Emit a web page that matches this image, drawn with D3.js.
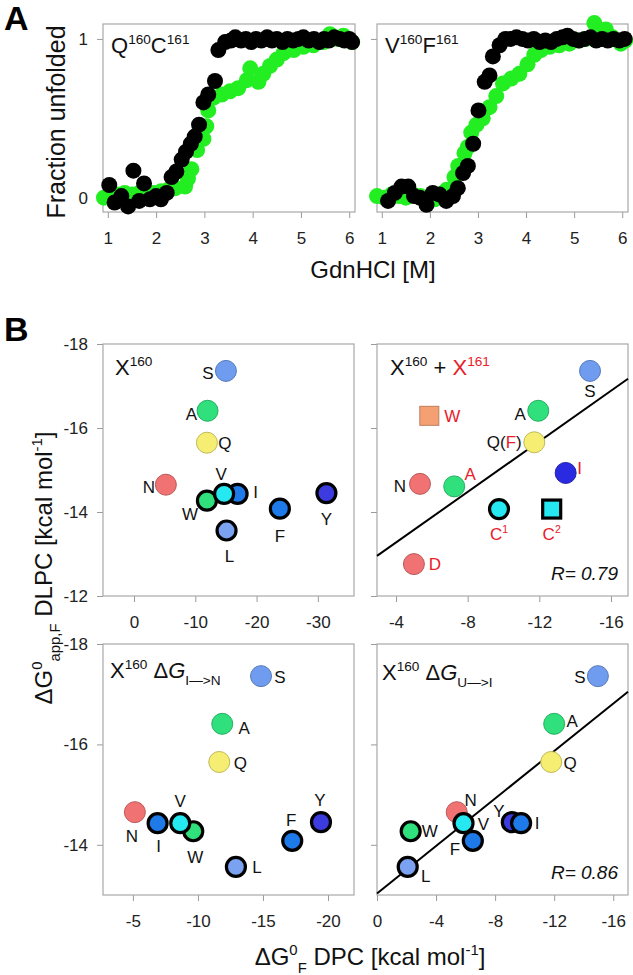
<!DOCTYPE html>
<html>
<head>
<meta charset="utf-8">
<script src="https://cdn.jsdelivr.net/npm/d3@7"></script>
<style>
body { margin: 0; background: #fff; }
svg { font-family: "Liberation Sans", Arial, sans-serif; }
.tick line { stroke: #9a9a9a; }
.tick text { fill: #222; font-size: 17px; }
.frame { fill: none; stroke: #a8a8a8; stroke-width: 1.2; }
</style>
</head>
<body>
<script>
// ---------- panel A: GdnHCl titrations [M, fraction unfolded] ----------
const qcBlack = [[1.03,0.08],[1.14,-0.03],[1.28,0.01],[1.42,-0.055],[1.53,0.17],[1.65,-0.02],[1.75,0.09],
  [1.87,-0.01],[2.0,0.01],[2.1,-0.01],[2.22,0.03],[2.32,0.13],[2.42,0.165],[2.53,0.24],[2.62,0.29],
  [2.72,0.34],[2.8,0.385],[2.89,0.46],[2.98,0.6],[3.08,0.65],[3.22,0.735],[3.29,0.93],[3.43,0.98],
  [3.55,0.99],[3.64,1.01],[3.76,0.99],[3.86,1.0],[3.97,0.98],[4.07,1.0],[4.18,0.99],[4.3,1.01],
  [4.4,0.99],[4.5,1.0],[4.62,0.98],[4.72,1.0],[4.84,0.99],[4.95,1.0],[5.05,1.01],[5.16,0.99],
  [5.27,1.0],[5.38,0.98],[5.48,1.0],[5.58,0.99],[5.69,1.01],[5.8,1.0],[5.9,0.99],[6.0,1.0],[6.06,0.98]];
const qcGreen = [[0.92,0.0],[1.05,0.0],[1.2,0.02],[1.35,0.03],[1.5,0.02],[1.65,0.03],[1.8,0.03],
  [1.95,0.03],[2.1,0.04],[2.25,0.05],[2.4,0.06],[2.6,0.07],[2.66,0.12],[2.73,0.18],[2.85,0.3],
  [2.98,0.37],[3.04,0.45],[3.08,0.55],[3.19,0.63],[3.36,0.65],[3.53,0.67],[3.7,0.69],[3.88,0.74],
  [3.95,0.815],[4.12,0.73],[4.22,0.78],[4.36,0.83],[4.5,0.87],[4.64,0.91],[4.85,0.93],[5.05,0.95],
  [5.26,0.96],[5.47,0.98],[5.6,1.03],[5.75,1.0],[5.88,1.02],[6.06,0.98]];
const vfBlack = [[1.13,-0.02],[1.27,0.03],[1.41,0.07],[1.55,0.07],[1.67,0.01],[1.79,0.0],[1.93,-0.045],
  [2.06,0.03],[2.2,0.02],[2.34,-0.02],[2.48,0.01],[2.58,0.06],[2.69,0.155],[2.79,0.2],[2.9,0.34],
  [3.01,0.55],[3.14,0.73],[3.24,0.77],[3.31,0.89],[3.45,0.96],[3.57,1.0],[3.68,1.0],[3.8,1.01],
  [3.92,1.0],[4.04,0.99],[4.16,1.0],[4.28,0.98],[4.4,0.99],[4.52,0.98],[4.64,1.0],[4.76,1.01],
  [4.86,1.02],[4.98,1.0],[5.1,0.99],[5.22,1.0],[5.34,1.01],[5.46,0.99],[5.58,1.0],[5.7,0.99],
  [5.82,1.0],[5.94,0.99],[6.05,1.0]];
const vfGreen = [[0.9,0.01],[1.05,0.0],[1.2,0.02],[1.35,0.01],[1.5,0.0],[1.65,0.02],[1.8,0.01],
  [1.95,0.0],[2.1,-0.01],[2.2,0.02],[2.35,0.05],[2.51,0.13],[2.59,0.2],[2.72,0.28],[2.79,0.32],
  [2.86,0.41],[2.97,0.46],[3.1,0.5],[3.24,0.57],[3.38,0.64],[3.52,0.72],[3.69,0.75],[3.86,0.78],
  [4.03,0.84],[4.17,0.9],[4.31,0.93],[4.49,0.95],[4.69,0.96],[4.9,0.97],[5.1,0.99],[5.25,1.0],
  [5.42,1.1],[5.55,1.04],[5.66,1.06],[5.8,1.01],[5.97,0.97],[6.06,0.99]];

// ---------- panel B: free energies [kcal/mol] ----------
const residues = ["S","A","Q","N","W","V","I","L","F","Y"];
const dlpc     = [-17.36,-16.41,-15.65,-14.65,-14.27,-14.43,-14.43,-13.56,-14.08,-14.45];
const dpcTotal = [-15.0,-12.0,-11.9,-5.2,-11.9,-14.7,-16.9,-15.1,-23.8,-31.4];
const dpcIN    = [-14.85,-11.87,-11.64,-5.15,-9.64,-8.64,-6.9,-12.92,-17.25,-19.46];
const dpcUI    = [-14.96,-12.0,-11.8,-5.4,-2.28,-5.86,-9.76,-2.08,-6.49,-9.13];

const pairs     = ["S","W","A","QF","I","N","A2","C1","C2","D"];
const pairsDPC  = [-14.83,-5.86,-11.94,-11.72,-13.47,-5.34,-7.25,-9.75,-12.69,-5.0];
const pairsDLPC = [-17.36,-16.29,-16.41,-15.66,-14.93,-14.67,-14.61,-14.07,-14.07,-12.76];

const fitPairs = {slope: 0.301, intercept: -12.07, r: "0.79"};
const fitUI    = {slope: 0.2365, intercept: -13.03, r: "0.86"};

const ticksA_x = [1,2,3,4,5,6], ticksA_y = [0,1];
const ticksB_y = [-18,-16,-14,-12], ticksB_y2 = [-18,-16,-14];
const ticksTL = [0,-10,-20,-30], ticksTR = [-4,-8,-12,-16];
const ticksBL = [-5,-10,-15,-20], ticksBR = [0,-4,-8,-12,-16];

// ---------- styles ----------
const RED = "#e8202a", GREEN = "#22ee22";
const fillOf = {S:"#6f9cef",A:"#2fe07c",Q:"#f6ee72",N:"#f07272",W:"#2fe07c",V:"#25e8f0",
  I:"#1e7ae8",L:"#7ba2f0",F:"#1e7ae8",Y:"#3b3be0"};
const thick = {W:1,V:1,I:1,L:1,F:1,Y:1};
const drawOrder = ["S","A","Q","N","Y","F","L","I","W","V"];
const pairStyle = {
  S:{fill:"#6f9cef"}, W:{fill:"#f5a073", square:true}, A:{fill:"#2fe07c"}, QF:{fill:"#f6ee72"},
  I:{fill:"#2a2ae0"}, N:{fill:"#f07272"}, A2:{fill:"#2fe07c"}, C1:{fill:"#25e8f0", thick:true},
  C2:{fill:"#25e8f0", thick:true, square:true}, D:{fill:"#f07272"}
};
const pairLabel = {
  S:[{t:"S"}], W:[{t:"W",c:RED}], A:[{t:"A"}], QF:[{t:"Q("},{t:"F",c:RED},{t:")"}],
  I:[{t:"I",c:RED}], N:[{t:"N"}], A2:[{t:"A",c:RED}], C1:[{t:"C",c:RED},{t:"1",sup:1,c:RED}],
  C2:[{t:"C",c:RED},{t:"2",sup:1,c:RED}], D:[{t:"D",c:RED}]
};
const labTL = {S:[-18,2],A:[-16,3],Q:[18,0],N:[-17,2],V:[-3,-20],W:[-17,13],I:[18,-2],L:[3,26],F:[0,27],Y:[0,26]};
const labBL = {S:[19,1],A:[22,4],Q:[21,1],N:[-3,24],I:[1,23],V:[0,-22],W:[2,26],L:[21,0],F:[-1,-21],Y:[-1,-22]};
const labBR = {S:[-18,1],A:[18,-3],Q:[19,1],N:[14,-12],V:[20,1],Y:[-13,-11],I:[16,0],W:[19,0],F:[-18,8],L:[18,9]};
const labTR = {S:[0,20],W:[23,0],A:[-18,3],QF:[-30,0],I:[14,-5],N:[-20,2],A2:[16,-12],C1:[0,25],C2:[0,25],D:[21,0]};

const W = 633, H = 975;
const svg = d3.select("body").append("svg").attr("width", W).attr("height", H);

// text with sub/superscripts made of tspans
function rich(g, x, y, parts, size, anchor) {
  const t = g.append("text").attr("x", x).attr("y", y).attr("font-size", size)
    .attr("text-anchor", anchor || "start");
  let shift = 0;
  parts.forEach(p => {
    const target = p.sup ? -0.42 * size : p.sub ? 0.32 * size : 0;
    t.append("tspan").attr("dy", target - shift)
      .attr("font-size", (p.sup || p.sub) ? size * (p.scale || 0.62) : size)
      .attr("fill", p.c || "#111")
      .attr("font-style", p.it ? "italic" : null)
      .text(p.t);
    shift = target;
  });
  return t;
}

function axes(x, y, xt, yt, xlab, ylab) {
  const [x0, x1] = x.range();
  const y0 = d3.min(y.range()), y1 = d3.max(y.range());
  svg.append("g").attr("transform", "translate(0," + y1 + ")")
    .call(d3.axisBottom(x).tickValues(xt).tickSize(6).tickPadding(14)
      .tickFormat(xlab ? (d => String(d)) : ""))
    .call(g => g.select(".domain").remove());
  svg.append("g").attr("transform", "translate(" + x0 + ",0)")
    .call(d3.axisLeft(y).tickValues(yt).tickSize(6).tickPadding(9)
      .tickFormat(ylab ? (d => String(d)) : ""))
    .call(g => g.select(".domain").remove());
  svg.append("rect").attr("class", "frame")
    .attr("x", x0).attr("y", y0).attr("width", x1 - x0).attr("height", y1 - y0);
}

// ---------- panel A ----------
const yA = d3.scaleLinear().domain([-0.09, 1.094]).range([212, 24]);
const xA1 = d3.scaleLinear().domain([0.9, 6.12]).range([103, 355]);
const xA2 = d3.scaleLinear().domain([0.9, 6.12]).range([377, 628]);

[[xA1, qcGreen, qcBlack, true, [{t:"Q"},{t:"160",sup:1},{t:"C"},{t:"161",sup:1}]],
 [xA2, vfGreen, vfBlack, false, [{t:"V"},{t:"160",sup:1},{t:"F"},{t:"161",sup:1}]]]
.forEach(([x, green, black, ylab, title]) => {
  axes(x, yA, ticksA_x, ticksA_y, true, ylab);
  svg.append("g").selectAll("circle").data(green).enter().append("circle")
    .attr("cx", d => x(d[0])).attr("cy", d => yA(d[1])).attr("r", 8).attr("fill", GREEN);
  svg.append("g").selectAll("circle").data(black).enter().append("circle")
    .attr("cx", d => x(d[0])).attr("cy", d => yA(d[1])).attr("r", 8).attr("fill", "#000");
  rich(svg, x.range()[0] + 8, 53, title, 22);
});

svg.append("text").attr("x", 4).attr("y", 30).attr("font-size", 34).attr("font-weight", "bold").text("A");
svg.append("text").attr("transform", "translate(65,122) rotate(-90)").attr("text-anchor", "middle")
  .attr("font-size", 25).attr("fill", "#111").text("Fraction unfolded");
svg.append("text").attr("x", 373).attr("y", 278).attr("text-anchor", "middle")
  .attr("font-size", 24).attr("fill", "#111").text("GdnHCl [M]");

// ---------- panel B ----------
const yTop = d3.scaleLinear().domain([-18, -12]).range([344, 596]);
const yBot = d3.scaleLinear().domain([-18, -13]).range([644, 895]);
const xTL = d3.scaleLinear().domain([5.06, -35.9]).range([103, 354]);
const xTR = d3.scaleLinear().domain([-2.94, -16.95]).range([377, 628]);
const xBL = d3.scaleLinear().domain([-2.7, -22]).range([103, 354]);
const xBR = d3.scaleLinear().domain([0, -17]).range([377, 628]);

axes(xTL, yTop, ticksTL, ticksB_y, true, true);
axes(xTR, yTop, ticksTR, ticksB_y, true, false);
axes(xBL, yBot, ticksBL, ticksB_y2, true, true);
axes(xBR, yBot, ticksBR, ticksB_y2, true, false);

function fitLine(x, y, fit) {
  const xs = x.domain();
  svg.append("line")
    .attr("x1", x(xs[0])).attr("y1", y(fit.slope * xs[0] + fit.intercept))
    .attr("x2", x(xs[1])).attr("y2", y(fit.slope * xs[1] + fit.intercept))
    .attr("stroke", "#000").attr("stroke-width", 2);
  rich(svg, x.range()[1] - 10, d3.max(y.range()) - 16, [{t:"R= " + fit.r, it:1}], 19, "end");
}
fitLine(xTR, yTop, fitPairs);
fitLine(xBR, yBot, fitUI);

function residuePanel(x, y, xs, lab) {
  const rows = residues.map((r, i) => ({r: r, x: xs[i], y: dlpc[i]}))
    .sort((a, b) => drawOrder.indexOf(a.r) - drawOrder.indexOf(b.r));
  const g = svg.append("g");
  g.selectAll("circle").data(rows).enter().append("circle")
    .attr("cx", d => x(d.x)).attr("cy", d => y(d.y))
    .attr("r", d => thick[d.r] ? 9.5 : 10.5)
    .attr("fill", d => fillOf[d.r])
    .attr("stroke", d => thick[d.r] ? "#000" : d3.color(fillOf[d.r]).darker(0.7))
    .attr("stroke-width", d => thick[d.r] ? 3.2 : 1);
  rows.forEach(d => {
    const o = lab[d.r];
    rich(g, x(d.x) + o[0], y(d.y) + o[1] + 6, [{t: d.r}], 17, "middle");
  });
}
residuePanel(xTL, yTop, dpcTotal, labTL);
residuePanel(xBL, yBot, dpcIN, labBL);
residuePanel(xBR, yBot, dpcUI, labBR);

// combined X160 + X161 panel
const gp = svg.append("g");
pairs.forEach((p, i) => {
  const s = pairStyle[p], cx = xTR(pairsDPC[i]), cy = yTop(pairsDLPC[i]);
  const stroke = s.thick ? "#000" : d3.color(s.fill).darker(0.7), sw = s.thick ? 3.2 : 1;
  if (s.square) {
    const h = s.thick ? 9 : 9.5;
    gp.append("rect").attr("x", cx - h).attr("y", cy - h).attr("width", 2 * h).attr("height", 2 * h)
      .attr("fill", s.fill).attr("stroke", stroke).attr("stroke-width", sw);
  } else {
    gp.append("circle").attr("cx", cx).attr("cy", cy).attr("r", s.thick ? 9.5 : 10.5)
      .attr("fill", s.fill).attr("stroke", stroke).attr("stroke-width", sw);
  }
  const o = labTR[p];
  rich(gp, cx + o[0], cy + o[1] + 6, pairLabel[p], 17, "middle");
});

// panel titles
rich(svg, 115, 375, [{t:"X"},{t:"160",sup:1}], 22);
rich(svg, 390, 375, [{t:"X"},{t:"160",sup:1},{t:" + "},{t:"X",c:RED},{t:"161",sup:1,c:RED}], 22);
rich(svg, 110, 678, [{t:"X"},{t:"160",sup:1},{t:" \u0394"},{t:"G",it:1},{t:"I\u2014>N",sub:1}], 22);
rich(svg, 382, 680, [{t:"X"},{t:"160",sup:1},{t:" \u0394"},{t:"G",it:1},{t:"U\u2014>I",sub:1}], 22);

svg.append("text").attr("x", 4).attr("y", 341).attr("font-size", 34).attr("font-weight", "bold").text("B");

// axis titles
const yt = svg.append("g").attr("transform", "translate(52,568) rotate(-90)");
rich(yt, 0, 0, [{t:"\u0394G"},{t:"0",sup:1},{t:"app,F",sub:1},{t:" DLPC [kcal mol"},{t:"-1",sup:1},{t:"]"}], 24, "middle");
rich(svg, 370, 965, [{t:"\u0394G"},{t:"0",sup:1},{t:"F",sub:1},{t:" DPC [kcal mol"},{t:"-1",sup:1},{t:"]"}], 24, "middle");
</script>
</body>
</html>
